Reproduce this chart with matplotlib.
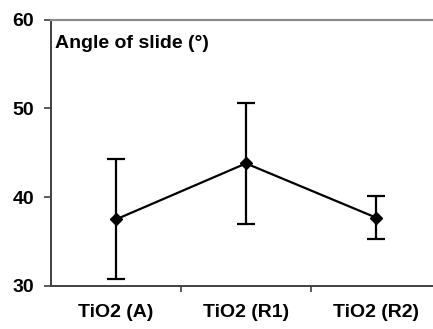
import matplotlib
matplotlib.use("Agg")
import matplotlib.pyplot as plt

categories = ["TiO2 (A)", "TiO2 (R1)", "TiO2 (R2)"]
values = [37.5, 43.8, 37.7]
errors = [6.75, 6.8, 2.45]
yticks = [30, 40, 50, 60]

plt.rcParams['font.family'] = ['Liberation Sans', 'DejaVu Sans']

W, H = 433, 329
fig = plt.figure(figsize=(W / 100, H / 100), dpi=100)
left, right, top, bottom = 51, 433, 19.5, 286
ax = fig.add_axes([left / W, 1 - bottom / H, (right - left) / W, (bottom - top) / H])

xpos = [i + 0.5 for i in range(len(categories))]
ax.errorbar(xpos, values, yerr=errors, color='black', lw=1.6, elinewidth=1.6,
            capsize=6.5, capthick=1.6, marker='D', markersize=6.5, zorder=3)

ax.set_ylim(30, 60)
ax.set_xlim(0, (right - left) / 130)
ax.set_yticks(yticks)
ax.set_yticklabels([str(t) for t in yticks], fontsize=14, fontweight='bold')
ax.set_xticks([1, 2])
ax.set_xticklabels([])
ax.set_xticks(xpos, minor=True)
ax.set_xticklabels(categories, minor=True, fontsize=14, fontweight='bold')
ax.tick_params(axis='x', which='minor', length=0, pad=13)
ax.tick_params(axis='x', which='major', length=4, width=1.2, color='#404040', direction='out')
ax.tick_params(axis='y', length=5, width=1.2, color='#404040', direction='out', pad=7)

ax.spines['right'].set_visible(False)
ax.spines['top'].set_color('#8c8c8c')
ax.spines['top'].set_linewidth(1.6)
ax.spines['left'].set_color('#404040')
ax.spines['left'].set_linewidth(1.4)
ax.spines['bottom'].set_color('#404040')
ax.spines['bottom'].set_linewidth(1.4)

ax.text(0.01, 0.91, "Angle of slide (°)", transform=ax.transAxes,
        fontsize=14, fontweight='bold', ha='left', va='center')

fig.savefig("out.png", dpi=100)
